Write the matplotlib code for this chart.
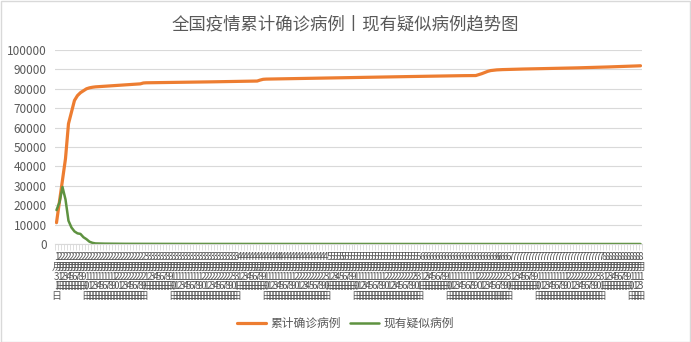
import numpy as np
import pandas as pd
import matplotlib
matplotlib.use("Agg")
import matplotlib.pyplot as plt
from matplotlib.patches import Rectangle

plt.rcParams['font.family'] = ['Noto Sans CJK SC', 'DejaVu Sans']

# 累计确诊病例
confirmed = [
    11000, 22000, 33000, 44000, 62000, 68000, 74000, 76500, 78000, 79000, 80000, 80500, 80800, 81000,
    81100, 81200, 81250, 81350, 81450, 81550, 81650, 81750, 81850, 81950, 82050,
    82200, 82300, 82400, 82550, 83000,
    83100, 83120, 83150, 83170, 83200, 83220, 83240, 83260, 83280, 83300,
    83320, 83340, 83360, 83380, 83400, 83420, 83440, 83460, 83480, 83500,
    83530, 83560, 83590, 83620, 83650, 83680, 83710, 83740, 83770, 83800,
    83830, 83860, 83890, 83920, 83940, 83960, 83980, 84000,
    84500, 84900, 85000,
    85030, 85060, 85090, 85110, 85140, 85170, 85200, 85220, 85250, 85280,
    85300, 85330, 85360, 85390, 85410, 85440, 85470, 85500, 85520, 85550,
    85580, 85600, 85630, 85660, 85690, 85710, 85740, 85770, 85800, 85820,
    85850, 85880, 85900, 85930, 85960, 85990, 86010, 86040, 86070, 86100,
    86120, 86150, 86180, 86200, 86230, 86260, 86290, 86310, 86340, 86370,
    86400, 86420, 86450, 86480, 86500, 86530, 86560, 86590, 86610, 86640,
    86670, 86700, 86720, 86740, 86760, 86780, 86790, 86800, 86810, 86830,
    87300, 87800, 88400, 89000, 89400, 89600, 89750, 89850, 89900, 89950,
    90000, 90040, 90080, 90120, 90160, 90200, 90240, 90270, 90300, 90330,
    90360, 90390, 90420, 90450, 90480, 90510, 90540, 90570, 90600, 90640,
    90680, 90720, 90760, 90800, 90840, 90880, 90920, 90960, 91000, 91050,
    91100, 91150, 91200, 91250, 91300, 91350, 91400, 91450, 91500, 91560,
    91620, 91680, 91740, 91800, 91870,
]

# 现有疑似病例
suspected = [
    17500, 21500, 29400, 23000, 12000, 8500, 6500, 5500, 5200, 3500, 2500, 1200, 600, 300,
    250, 210, 180, 160, 140, 120, 110, 100, 95, 90,
    85, 80, 75, 72, 70, 68, 65, 62, 60, 58,
    55, 52, 50, 48, 46, 44, 42, 40, 38, 36,
    35, 34, 33, 32, 31, 30, 29, 28, 27, 26,
    25, 24, 23, 22, 21, 20, 20, 19, 19, 18,
    18, 17, 17, 16, 16, 15, 15, 14, 14, 13,
    13, 12, 12, 11, 11, 10, 10, 10, 9, 9,
    9, 8, 8, 8, 7, 7, 7, 7, 6, 6,
    6, 6, 6, 5, 5, 5, 5, 5, 5, 4,
    4, 4, 4, 4, 4, 4, 3, 3, 3, 3,
    3, 3, 3, 3, 3, 3, 3, 3, 3, 3,
    2, 2, 2, 2, 2, 2, 2, 2, 2, 2,
    2, 2, 2, 2, 2, 2, 2, 2, 2, 2,
    3, 3, 4, 5, 6, 5, 4, 4, 3, 3,
    3, 3, 3, 3, 2, 2, 2, 2, 2, 2,
    2, 2, 2, 2, 2, 2, 2, 2, 2, 2,
    1, 1, 1, 1, 1, 1, 1, 1, 1, 1,
    1, 1, 1, 1, 1, 1, 1, 1, 1, 1,
    1, 1,
]

dates = pd.date_range('2020-01-31', periods=len(confirmed))
date_labels = ["\n".join(f"{d.month}月{d.day}日") for d in dates]

title = "全国疫情累计确诊病例丨现有疑似病例趋势图"
grey = '#595959'

fig = plt.figure(figsize=(6.91, 3.42), dpi=100)
fig.patches.append(Rectangle((0.001, 0.001), 0.997, 0.996, transform=fig.transFigure,
                             fill=False, edgecolor='#d9d9d9', linewidth=1))
ax = fig.add_axes([0.0796, 0.2865, 0.8495, 0.5673])

x = np.arange(len(confirmed))
ax.plot(x, confirmed, color='#ED7D31', linewidth=2.3, label='累计确诊病例', solid_capstyle='round')
ax.plot(x, suspected, color='#5E9240', linewidth=1.8, label='现有疑似病例', solid_capstyle='round')

ax.set_ylim(0, 100000)
ax.set_yticks(np.arange(0, 100001, 10000))
ax.set_xlim(-0.5, len(confirmed) - 0.5)
ax.grid(axis='y', color='#d9d9d9', linewidth=0.8)
ax.set_axisbelow(True)
for s in ['top', 'right', 'left']:
    ax.spines[s].set_visible(False)
ax.spines['bottom'].set_color('#d9d9d9')

ax.tick_params(axis='y', length=0, labelsize=8.5, labelcolor=grey, pad=6)
ax.set_xticks(np.arange(-0.5, len(confirmed), 1))
ax.set_xticklabels([])
ax.tick_params(axis='x', which='major', length=4, color='#d9d9d9', width=0.6)
ax.set_xticks(x, minor=True)
ax.set_xticklabels(date_labels, minor=True, fontsize=7.2, color=grey, linespacing=0.95)
ax.tick_params(axis='x', which='minor', length=0, pad=6)

fig.text(0.5, 0.93, title, ha='center', va='center', fontsize=12.5, color=grey)
fig.legend(loc='center', bbox_to_anchor=(0.5, 0.055), ncol=2, frameon=False,
           fontsize=8.5, handlelength=2.4, columnspacing=0.8, handletextpad=0.4,
           labelcolor=grey)

fig.savefig('out.png', dpi=100)
